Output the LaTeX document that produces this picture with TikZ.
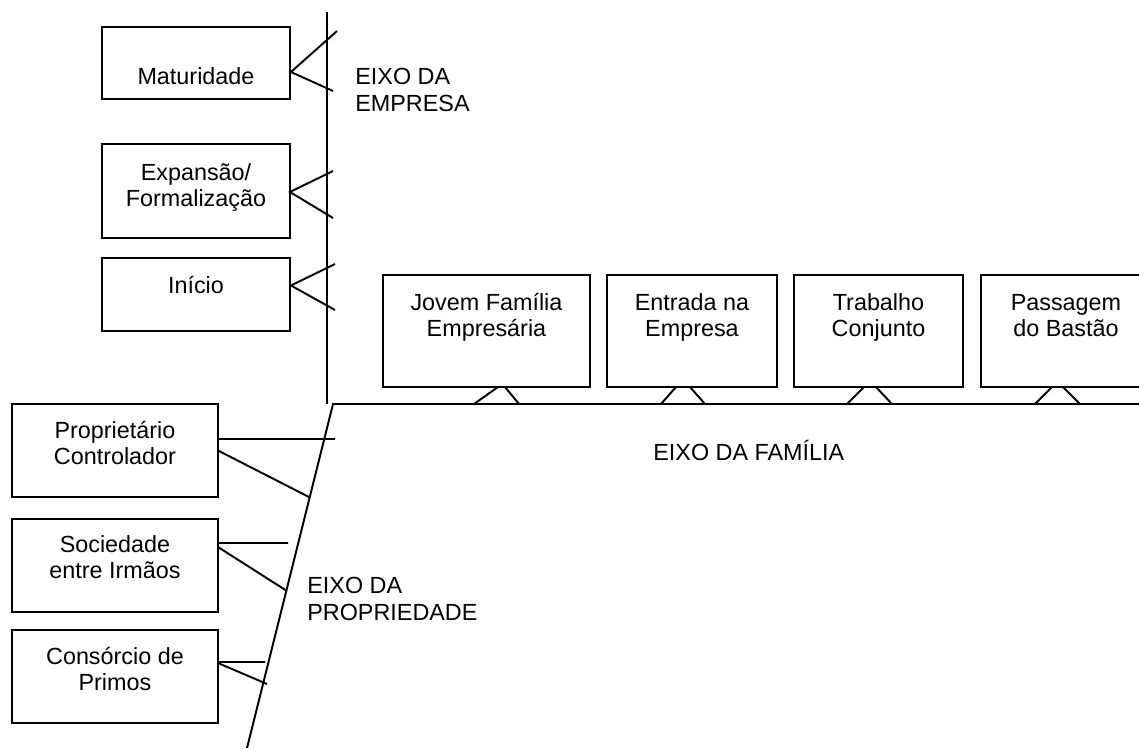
\documentclass[tikz,border=0pt]{standalone}
\usepackage{fontspec}
\setmainfont{Liberation Sans}
\tikzset{
 every node/.style={font=\fontsize{13.3}{15}\selectfont},
 box/.style={draw,line width=1.1pt,anchor=north west,inner sep=0pt,outer sep=0pt},
 txt/.style={align=center,anchor=base,inner sep=0pt},
 eixotxt/.style={align=left,anchor=base west,inner sep=0pt},
 eixo/.style={line width=1.1pt},
 tick/.style={line width=1.1pt},
 }
\begin{document}
\begin{tikzpicture}[x=.02cm,y=-.02cm]
 \useasboundingbox (0,0) rectangle (1139,748);
 % eixos
 \coordinate (e0) at (327,12);\coordinate (e1) at (327,404);
 \coordinate (f0) at (333,404);\coordinate (f1) at (1139,404);
 \coordinate (p1) at (247,748);
 \draw[eixo] (e0)--(e1);
 \draw[eixo] (f1)--(f0)--(p1);
 % eixo da empresa
 \node[box,minimum width=3.76cm,minimum height=1.44cm,label={[txt,yshift=-1.16cm]north:Maturidade}](mat)at(102,27){};
 \node[box,minimum width=3.76cm,minimum height=1.88cm,label={[txt,yshift=-1.25cm]north:{Expansão/\\Formalização}}](exp)at(102,144){};
 \node[box,minimum width=3.76cm,minimum height=1.46cm,label={[txt,yshift=-0.7cm]north:Início}](ini)at(102,258){};
 \coordinate (m1) at (337,31);\coordinate (m2) at (333,91);
 \coordinate (x1) at (333,171);\coordinate (x2) at (333,218);
 \coordinate (i1) at (335,264);\coordinate (i2) at (335,310);
 \draw[tick] (m1)--([shift={(1,9)}]mat.east)--(m2);
 \draw[tick] (x1)--([shift={(0,1)}]exp.east)--(x2);
 \draw[tick] (i1)--([shift={(1,-9)}]ini.east)--(i2);
 \node[eixotxt](ce)at(355,111){EIXO DA\\EMPRESA};
 % eixo da familia
 \node[box,minimum width=4.14cm,minimum height=2.24cm,label={[txt,yshift=-1.23cm]north:{Jovem Família\\Empresária}}](jov)at(383,275){};
 \node[box,minimum width=3.4cm,minimum height=2.24cm,label={[txt,yshift=-1.23cm]north:{Entrada na\\Empresa}}](ent)at(607,275){};
 \node[box,minimum width=3.38cm,minimum height=2.24cm,label={[txt,yshift=-1.23cm]north:{Trabalho\\Conjunto}}](tra)at(794,275){};
 \node[box,minimum width=3.4cm,minimum height=2.24cm,label={[txt,yshift=-1.23cm]north:{Passagem\\do Bastão}}](pas)at(981,275){};
 \foreach \a/\b/\c/\d in {474/498/505/519,661/676/690/705,847/864/876/892,1035/1052/1063/1080}
  \draw[tick] (\a,404)--(\b,387)--(\c,387)--(\d,404);
 \node[eixotxt](cf)at(653,460){EIXO DA FAMÍLIA};
 % eixo da propriedade
 \node[box,minimum width=4.12cm,minimum height=1.86cm,label={[txt,yshift=-1.21cm]north:{Proprietário\\Controlador}}](pro)at(12,404){};
 \node[box,minimum width=4.12cm,minimum height=1.86cm,label={[txt,yshift=-1.19cm]north:{Sociedade\\entre Irmãos}}](soc)at(12,519){};
 \node[box,minimum width=4.12cm,minimum height=1.86cm,label={[txt,yshift=-1.21cm]north:{Consórcio de\\Primos}}](con)at(12,630){};
 \coordinate (o1) at (335,439);\coordinate (o2) at (309,497);
 \coordinate (s1) at (288,543);\coordinate (s2) at (287,591);
 \coordinate (c1) at (265,662);\coordinate (c2) at (267,684);
 \draw[tick] ([shift={(0,-11.5)}]pro.east)--(o1);\draw[tick] (pro.east)--(o2);
 \draw[tick] ([shift={(0,-22.5)}]soc.east)--(s1);\draw[tick] ([shift={(0,-18.5)}]soc.east)--(s2);
 \draw[tick] ([shift={(0,-14.5)}]con.east)--(c1);\draw[tick] ([shift={(0,-13.5)}]con.east)--(c2);
 \node[eixotxt](cp)at(307,620){EIXO DA\\PROPRIEDADE};
\end{tikzpicture}
\end{document}
